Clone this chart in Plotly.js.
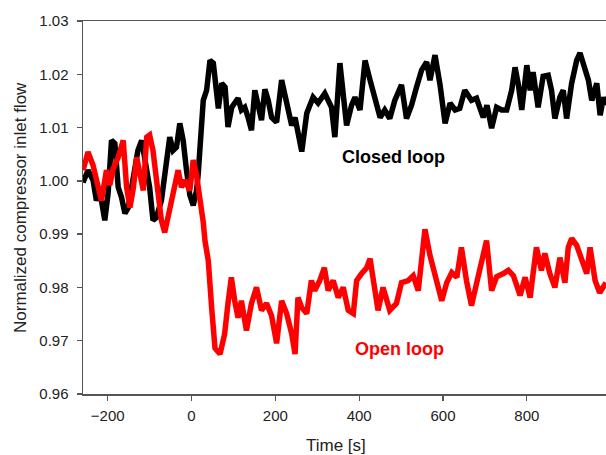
<!DOCTYPE html>
<html>
<head>
<meta charset="utf-8">
<script src="https://cdn.plot.ly/plotly-3.0.1.min.js"></script>
<style>html,body{margin:0;padding:0;background:#fff;}#chart{width:606px;height:455px;}</style>
</head>
<body>
<div id="chart"></div>
<script>
// Closed loop series (time in s, normalized flow)
var closedTime = [-259,-247,-235,-227,-219,-207,-199,-191,-183,-175,-167,-159,-151,-139,-128,-119,-112,-100,-92,-84,-72,-60,-52,-44,-36,-28,-20,-12,-4,4,12,16,20,28,36,44,52,60,64,72,80,87,96,103,111,119,127,135,143,151,159,167,175,183,191,203,215,223,231,239,247,255,263,275,286,290,302,318,334,342,354,362,370,382,390,402,414,426,438,450,461,473,485,501,513,525,537,549,561,569,581,593,605,617,629,640,652,668,680,696,705,716,728,740,752,764,772,780,788,800,808,815,827,839,851,859,867,879,887,895,907,919,927,935,947,955,967,975,983,989];
var closedFlow = [0.9997,1.0020,1.0001,0.9963,0.9982,0.9926,0.9977,1.0076,1.0070,0.9988,0.9969,0.9939,0.9950,1.0014,1.0057,1.0076,1.0039,0.9988,0.9926,0.9931,0.9963,1.0044,1.0082,1.0057,1.0063,1.0108,1.0076,1.0020,0.9973,0.9954,0.9982,1.0014,1.0076,1.0151,1.0170,1.0226,1.0221,1.0170,1.0136,1.0183,1.0176,1.0101,1.0138,1.0146,1.0155,1.0133,1.0138,1.0119,1.0095,1.0170,1.0138,1.0114,1.0172,1.0151,1.0119,1.0110,1.0189,1.0157,1.0127,1.0104,1.0119,1.0086,1.0055,1.0127,1.0151,1.0157,1.0146,1.0164,1.0138,1.0082,1.0221,1.0161,1.0104,1.0142,1.0157,1.0133,1.0226,1.0189,1.0151,1.0119,1.0133,1.0117,1.0151,1.0180,1.0117,1.0142,1.0176,1.0208,1.0223,1.0189,1.0236,1.0180,1.0108,1.0146,1.0133,1.0136,1.0170,1.0151,1.0155,1.0119,1.0142,1.0099,1.0138,1.0133,1.0133,1.0170,1.0213,1.0180,1.0133,1.0217,1.0170,1.0204,1.0138,1.0196,1.0198,1.0170,1.0117,1.0157,1.0170,1.0117,1.0183,1.0226,1.0240,1.0221,1.0189,1.0151,1.0183,1.0123,1.0157,1.0142];

// Open loop series
var openTime = [-259,-247,-235,-223,-215,-203,-195,-187,-175,-163,-155,-147,-139,-131,-123,-115,-107,-100,-92,-80,-72,-64,-52,-40,-32,-24,-16,-4,4,12,20,28,32,40,48,56,68,79,87,95,103,111,119,131,143,155,167,179,191,203,215,227,239,247,254,263,275,286,294,306,317,326,338,350,362,374,386,394,406,418,426,438,445,457,473,489,501,517,529,541,557,569,581,597,609,621,633,644,656,668,680,692,704,716,728,744,756,768,784,796,808,815,823,835,843,855,867,879,891,899,907,919,931,943,951,963,974,989];
var openFlow = [1.0020,1.0054,1.0029,0.9988,0.9963,1.0020,0.9992,1.0023,1.0044,1.0076,0.9988,0.9950,0.9986,1.0044,1.0007,0.9982,1.0082,1.0086,1.0057,0.9988,0.9926,0.9903,0.9948,0.9992,1.0020,0.9988,1.0001,0.9982,1.0039,1.0010,0.9973,0.9922,0.9888,0.9850,0.9762,0.9686,0.9675,0.9713,0.9770,0.9819,0.9775,0.9743,0.9775,0.9719,0.9770,0.9800,0.9757,0.9770,0.9747,0.9695,0.9775,0.9751,0.9713,0.9675,0.9781,0.9762,0.9751,0.9813,0.9794,0.9813,0.9837,0.9794,0.9813,0.9781,0.9800,0.9757,0.9751,0.9813,0.9826,0.9837,0.9854,0.9800,0.9757,0.9800,0.9757,0.9770,0.9809,0.9813,0.9822,0.9794,0.9909,0.9860,0.9826,0.9775,0.9809,0.9828,0.9819,0.9875,0.9813,0.9766,0.9807,0.9845,0.9888,0.9794,0.9820,0.9826,0.9832,0.9822,0.9785,0.9819,0.9781,0.9826,0.9875,0.9832,0.9864,0.9826,0.9800,0.9856,0.9809,0.9875,0.9892,0.9879,0.9850,0.9826,0.9875,0.9813,0.9790,0.9809];

var xTicks = [-200, 0, 200, 400, 600, 800];
var yTicks = [0.96, 0.97, 0.98, 0.99, 1.00, 1.01, 1.02, 1.03];
var yTickText = ["0.96","0.97","0.98","0.99","1.00","1.01","1.02","1.03"];
var labels = [
  {text: "Closed loop", x: 483, y: 1.0044, color: "#000000"},
  {text: "Open loop", x: 497, y: 0.9685, color: "#ff0000"}
];

var FONT = "Liberation Sans, Arial, sans-serif";

var traces = [
  {x: closedTime, y: closedFlow, type: "scatter", mode: "lines",
   line: {color: "#000000", width: 5.5}, showlegend: false, hoverinfo: "skip"},
  {x: openTime, y: openFlow, type: "scatter", mode: "lines",
   line: {color: "#ff0000", width: 5.5}, showlegend: false, hoverinfo: "skip"}
];

var ann = labels.map(function(l){
  return {text: "<b>" + l.text + "</b>", x: l.x, y: l.y, xref: "x", yref: "y",
    xanchor: "center", yanchor: "middle",
    showarrow: false, font: {family: FONT, size: 18, color: l.color}};
});
ann.push({text: "Time [s]", xref: "paper", yref: "paper", x: 0.484, y: 0, yshift: -51,
  xanchor: "center", yanchor: "middle",
  showarrow: false, font: {family: FONT, size: 17, color: "#222"}});
ann.push({text: "Normalized compressor inlet flow", xref: "paper", yref: "paper", x: -0.1195, y: 0.5,
  xanchor: "center", yanchor: "middle",
  textangle: -90, showarrow: false, font: {family: FONT, size: 17, color: "#222"}});

var layout = {
  width: 606, height: 455,
  margin: {l: 83, r: 0, t: 21, b: 61},
  paper_bgcolor: "#ffffff", plot_bgcolor: "#ffffff",
  font: {family: FONT, size: 15, color: "#222"},
  xaxis: {range: [-259, 989], tickvals: xTicks, ticks: "outside", ticklen: 5, tickwidth: 1.3,
    tickcolor: "#555", showline: true, linecolor: "#555", linewidth: 1.5, mirror: true,
    showgrid: false, zeroline: false, tickfont: {size: 15, color: "#222"}, ticklabelstandoff: 2},
  yaxis: {range: [0.96, 1.03], tickvals: yTicks, ticktext: yTickText, ticks: "outside", ticklen: 5,
    tickwidth: 1.3, tickcolor: "#555", showline: true, linecolor: "#555", linewidth: 1.5,
    showgrid: false, zeroline: false, tickfont: {size: 15, color: "#222"}, ticklabelstandoff: 5},
  annotations: ann
};

Plotly.newPlot("chart", traces, layout, {staticPlot: true, displayModeBar: false});
</script>
</body>
</html>
